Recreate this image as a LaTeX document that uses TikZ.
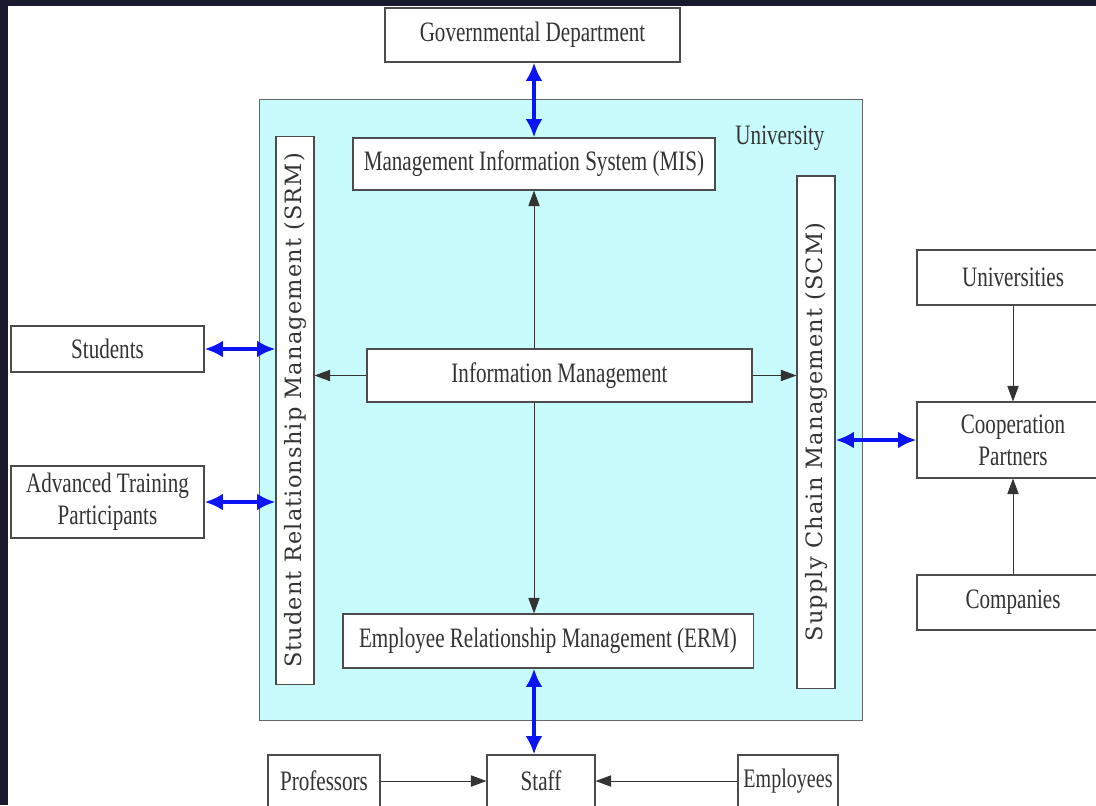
\documentclass[tikz,border=0pt]{standalone}
\usepackage{fontspec}
\setmainfont[FakeStretch=0.75]{Liberation Serif}
\newfontfamily\barfont[LetterSpace=5]{DejaVu Serif}
\usetikzlibrary{arrows.meta}

\definecolor{unicyan}{HTML}{C8FCFC}
\definecolor{framedark}{HTML}{1A1A2E}
\definecolor{linkblue}{HTML}{0A14F5}

\tikzset{
  box/.style={draw=black!70, fill=white, line width=0.8pt, inner sep=0pt,
    align=center, text=black!80, font=\fontsize{20}{21}\selectfont},
  barbox/.style={box, font=\barfont\fontsize{16}{18}\selectfont},
  flow/.style={-{Triangle[length=11pt,width=8pt]}, line width=0.6pt, draw=black!80},
  link/.style={{Latex[length=13pt,width=12pt]}-{Latex[length=13pt,width=12pt]},
    line width=2.6pt, draw=linkblue},
}

\begin{document}
\begin{tikzpicture}[x=0.025cm, y=-0.025cm]
  \clip (0,0) rectangle (1096,805);
  \fill[framedark] (0,0) rectangle (1096,805);
  \fill[white] (8,6) rectangle (1096,805);

  % university frame
  \node[draw=black!60, fill=unicyan, line width=0.8pt, minimum width=15.05cm,
    minimum height=15.5cm] (univ) at (561,410) {};
  \node[text=black!80, font=\fontsize{20}{21}\selectfont] (unilabel) at (780,138) {University};

  % boxes
  \node[box, minimum width=7.375cm, minimum height=1.35cm] (gov) at (532.5,35) {Governmental Department};
  \node[box, minimum width=9.05cm, minimum height=1.3cm] (mis) at (534,164) {Management Information System (MIS)};
  \node[box, minimum width=9.625cm, minimum height=1.325cm] (info) at (559.5,375.5) {Information Management};
  \node[box, minimum width=10.25cm, minimum height=1.35cm] (erm) at (548,641) {Employee Relationship Management (ERM)};
  \node[barbox, minimum width=0.95cm, minimum height=13.675cm] (srm) at (295,410.5)
    {\rotatebox{90}{Student Relationship Management (SRM)}};
  \node[barbox, minimum width=0.95cm, minimum height=12.8cm] (scm) at (816,432)
    {\rotatebox{90}{Supply Chain Management (SCM)}};

  \node[box, minimum width=4.825cm, minimum height=1.15cm] (stud) at (107.5,349) {Students};
  \node[box, minimum width=4.825cm, minimum height=1.8cm] (atp) at (107.5,502) {Advanced Training\\[2pt]Participants};

  \node[box, minimum width=4.8cm, minimum height=1.375cm] (unis) at (1013,277.5) {Universities};
  \node[box, minimum width=4.8cm, minimum height=1.9cm] (coop) at (1013,440) {Cooperation\\[2pt]Partners};
  \node[box, minimum width=4.8cm, minimum height=1.375cm] (comp) at (1013,602.5) {Companies};

  \node[box, minimum width=2.8cm, minimum height=1.3cm] (prof) at (324,781) {Professors};
  \node[box, minimum width=2.7cm, minimum height=1.3cm] (staff) at (541,781) {Staff};
  \node[box, minimum width=2.5cm, minimum height=1.3cm, font=\fontsize{19}{21}\selectfont] (empl) at (788,781) {Employees};

  % internal flows
  \draw[flow] (mis.south |- info.north) -- (mis.south);
  \draw[flow] (mis.south |- info.south) -- (mis.south |- erm.north);
  \draw[flow] (info.west) -- (srm.east |- info.west);
  \draw[flow] (info.east) -- (scm.west |- info.east);

  % partner flows
  \draw[flow] (unis.south) -- (coop.north);
  \draw[flow] (comp.north) -- (coop.south);
  \draw[flow] (prof.east) -- (staff.west);
  \draw[flow] (empl.west) -- (staff.east);

  % blue links
  \draw[link] (mis.north |- gov.south) -- (mis.north);
  \draw[link] (stud.east) -- (srm.west |- stud.east);
  \draw[link] (atp.east) -- (srm.west |- atp.east);
  \draw[link] (scm.east |- coop.west) -- (coop.west);
  \draw[link] (mis.south |- erm.south) -- (mis.south |- staff.north);
\end{tikzpicture}
\end{document}
